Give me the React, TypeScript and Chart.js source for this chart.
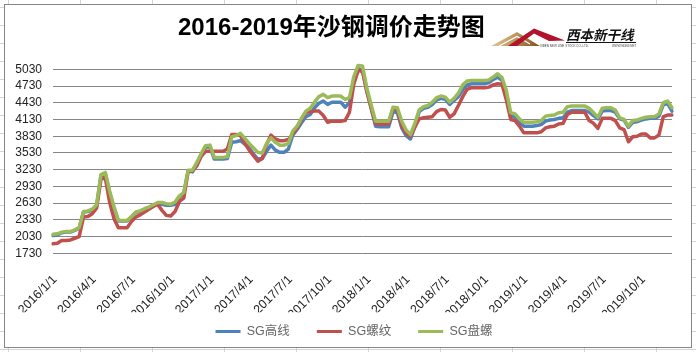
import React, { useEffect, useRef } from "react";
import { Chart, registerables } from "chart.js";

Chart.register(...registerables);

const CATEGORIES = [
  "2016/1/1","2016/1/11","2016/1/21","2016/2/1","2016/2/11","2016/2/21","2016/3/1","2016/3/11","2016/3/21","2016/4/1","2016/4/11","2016/4/21",
  "2016/5/1","2016/5/11","2016/5/21","2016/6/1","2016/6/11","2016/6/21","2016/7/1","2016/7/11","2016/7/21","2016/8/1","2016/8/11","2016/8/21",
  "2016/9/1","2016/9/11","2016/9/21","2016/10/1","2016/10/11","2016/10/21","2016/11/1","2016/11/11","2016/11/21","2016/12/1","2016/12/11","2016/12/21",
  "2017/1/1","2017/1/11","2017/1/21","2017/2/1","2017/2/11","2017/2/21","2017/3/1","2017/3/11","2017/3/21","2017/4/1","2017/4/11","2017/4/21",
  "2017/5/1","2017/5/11","2017/5/21","2017/6/1","2017/6/11","2017/6/21","2017/7/1","2017/7/11","2017/7/21","2017/8/1","2017/8/11","2017/8/21",
  "2017/9/1","2017/9/11","2017/9/21","2017/10/1","2017/10/11","2017/10/21","2017/11/1","2017/11/11","2017/11/21","2017/12/1","2017/12/11","2017/12/21",
  "2018/1/1","2018/1/11","2018/1/21","2018/2/1","2018/2/11","2018/2/21","2018/3/1","2018/3/11","2018/3/21","2018/4/1","2018/4/11","2018/4/21",
  "2018/5/1","2018/5/11","2018/5/21","2018/6/1","2018/6/11","2018/6/21","2018/7/1","2018/7/11","2018/7/21","2018/8/1","2018/8/11","2018/8/21",
  "2018/9/1","2018/9/11","2018/9/21","2018/10/1","2018/10/11","2018/10/21","2018/11/1","2018/11/11","2018/11/21","2018/12/1","2018/12/11","2018/12/21",
  "2019/1/1","2019/1/11","2019/1/21","2019/2/1","2019/2/11","2019/2/21","2019/3/1","2019/3/11","2019/3/21","2019/4/1","2019/4/11","2019/4/21",
  "2019/5/1","2019/5/11","2019/5/21","2019/6/1","2019/6/11","2019/6/21","2019/7/1","2019/7/11","2019/7/21","2019/8/1","2019/8/11","2019/8/21",
  "2019/9/1","2019/9/11","2019/9/21","2019/10/1","2019/10/11","2019/10/21","2019/11/1","2019/11/11","2019/11/21","2019/12/1","2019/12/11"
];

const TICK_LABELS = [
  "2016/1/1","2016/4/1","2016/7/1","2016/10/1",
  "2017/1/1","2017/4/1","2017/7/1","2017/10/1",
  "2018/1/1","2018/4/1","2018/7/1","2018/10/1",
  "2019/1/1","2019/4/1","2019/7/1","2019/10/1"
];

const Y_TICKS = [1730, 2030, 2330, 2630, 2930, 3230, 3530, 3830, 4130, 4430, 4730, 5030];

// SG高线
const SG_WIRE = [
  2050,2060,2100,2110,2110,2140,2180,2470,2480,2500,2580,3120,
  3160,2820,2540,2310,2310,2310,2380,2460,2480,2520,2550,2580,
  2620,2610,2590,2590,2610,2740,2800,3210,3190,3340,3500,3630,
  3640,3420,3420,3420,3430,3720,3730,3750,3690,3620,3510,3420,
  3430,3560,3670,3580,3540,3540,3600,3850,3950,4070,4180,4220,
  4340,4420,4460,4400,4440,4440,4440,4350,4430,4820,5040,5020,
  4640,4330,4010,4000,4000,4000,4270,4250,3980,3840,3780,4000,
  4270,4330,4350,4400,4480,4510,4490,4400,4470,4540,4660,4750,
  4770,4770,4770,4770,4790,4850,4890,4830,4590,4190,4170,4070,
  4010,4010,4010,4020,4040,4100,4120,4130,4150,4160,4260,4290,
  4290,4290,4290,4260,4200,4140,4280,4290,4290,4260,4140,4120,
  3990,4080,4090,4120,4140,4150,4150,4190,4390,4420,4280
];

// SG螺纹
const SG_REBAR = [
  1900,1910,1960,1960,1970,2000,2030,2380,2390,2440,2540,3060,
  3080,2640,2350,2190,2190,2190,2300,2380,2420,2470,2520,2570,
  2610,2500,2410,2400,2480,2660,2720,3200,3210,3300,3470,3560,
  3560,3560,3560,3560,3600,3860,3860,3840,3700,3580,3480,3380,
  3430,3680,3850,3780,3750,3750,3770,3870,3980,4130,4260,4270,
  4280,4280,4200,4080,4100,4100,4100,4110,4260,4760,5010,4990,
  4630,4330,4050,4050,4050,4050,4330,4300,4020,3880,3830,3990,
  4140,4160,4170,4180,4270,4310,4300,4170,4230,4380,4540,4670,
  4700,4700,4700,4700,4710,4750,4770,4760,4480,4130,4110,4010,
  3890,3890,3890,3890,3910,3980,4000,4010,4050,4060,4220,4260,
  4260,4260,4260,4110,4060,3970,4150,4150,4150,4110,3980,3950,
  3730,3820,3830,3870,3870,3800,3800,3850,4180,4210,4210
];

// SG盘螺
const SG_COIL = [
  2070,2080,2110,2120,2120,2150,2190,2480,2490,2520,2600,3140,
  3180,2840,2560,2320,2320,2320,2390,2470,2490,2530,2560,2600,
  2640,2640,2620,2610,2650,2760,2820,3220,3220,3360,3520,3660,
  3670,3450,3450,3450,3460,3820,3840,3880,3790,3700,3620,3540,
  3530,3700,3800,3720,3670,3670,3700,3920,4010,4150,4280,4330,
  4440,4540,4580,4520,4550,4550,4550,4490,4520,4900,5100,5090,
  4690,4390,4100,4100,4100,4100,4350,4340,4100,3940,3860,4060,
  4300,4360,4380,4440,4520,4550,4530,4440,4510,4600,4750,4820,
  4830,4830,4830,4830,4840,4890,4950,4880,4650,4250,4230,4140,
  4080,4080,4080,4090,4110,4190,4200,4210,4250,4260,4360,4370,
  4370,4370,4370,4330,4250,4170,4330,4340,4340,4300,4160,4130,
  4010,4110,4120,4150,4170,4180,4180,4230,4430,4460,4340
];

const SERIES_NAMES = ["SG高线", "SG螺纹", "SG盘螺"];
const SERIES_COLORS = ["#4F81BD", "#C0504D", "#9BBB59"];
const TITLE = "2016-2019年沙钢调价走势图";
const LOGO_TEXT = "西本新干线";
const LOGO_SUB = "XIBEN NEW LINE STOCK CO.,LTD.";
const LOGO_URL = "WWW.96369.NET";

const FONT = "'Liberation Sans', 'Noto Sans CJK SC', sans-serif";

const framePlugin = {
  id: "excelFrame",
  beforeDraw(chart: any) {
    const ctx = chart.ctx as CanvasRenderingContext2D;
    const W = chart.width;
    const H = chart.height;
    ctx.save();
    ctx.fillStyle = "#ffffff";
    ctx.fillRect(0, 0, W, H);
    // spreadsheet cells behind the chart object
    ctx.strokeStyle = "#d4d4d4";
    ctx.lineWidth = 1;
    ctx.beginPath();
    for (let x = 8; x < W; x += 72) {
      ctx.moveTo(x + 0.5, 0);
      ctx.lineTo(x + 0.5, H);
    }
    for (let y = 7; y < H; y += 18) {
      ctx.moveTo(0, y + 0.5);
      ctx.lineTo(W, y + 0.5);
    }
    ctx.stroke();
    ctx.fillStyle = "#ffffff";
    ctx.fillRect(4, 4, 688, 344);
    ctx.strokeStyle = "#868686";
    ctx.strokeRect(4.5, 4.5, 687, 343);

    // title
    ctx.fillStyle = "#000000";
    ctx.font = "bold 24px " + FONT;
    ctx.textAlign = "left";
    ctx.textBaseline = "middle";
    ctx.fillText(TITLE, 178, 28);

    // logo: mountains
    const g = ctx.createLinearGradient(492, 30, 535, 48);
    g.addColorStop(0, "#ecd6a6");
    g.addColorStop(1, "#8a5a22");
    ctx.fillStyle = g;
    ctx.beginPath();
    ctx.moveTo(491, 46);
    ctx.lineTo(517, 32);
    ctx.lineTo(540, 46);
    ctx.closePath();
    ctx.fill();
    ctx.strokeStyle = "#ffffff";
    ctx.lineWidth = 1.2;
    ctx.beginPath();
    ctx.moveTo(499, 46);
    ctx.lineTo(517, 36.5);
    ctx.lineTo(530, 44);
    ctx.stroke();

    ctx.fillStyle = "#b3122a";
    ctx.beginPath();
    ctx.moveTo(508, 46);
    ctx.lineTo(534, 28.5);
    ctx.lineTo(565, 40.5);
    ctx.lineTo(549, 41);
    ctx.lineTo(534, 33.5);
    ctx.lineTo(517, 46);
    ctx.closePath();
    ctx.fill();

    // logo text
    ctx.fillStyle = "#111111";
    ctx.font = "italic bold 13.5px 'Noto Sans CJK SC', sans-serif";
    ctx.textBaseline = "alphabetic";
    ctx.fillText(LOGO_TEXT, 566, 39.5);
    ctx.strokeStyle = "#111111";
    ctx.lineWidth = 1;
    ctx.beginPath();
    ctx.moveTo(566, 42.5);
    ctx.lineTo(636, 42.5);
    ctx.stroke();
    ctx.font = "3px " + FONT;
    ctx.fillStyle = "#444444";
    ctx.fillText(LOGO_SUB, 540, 46.5);
    ctx.fillText(LOGO_URL, 612, 46.5);
    ctx.restore();
  },
};

export default function App() {
  const ref = useRef<HTMLCanvasElement | null>(null);

  useEffect(() => {
    document.body.style.margin = "0";
    const canvas = ref.current;
    if (!canvas) return;
    Chart.defaults.font.family = FONT;

    const seriesData = [SG_WIRE, SG_REBAR, SG_COIL];
    const drawOrder = [3, 2, 1];

    const chart = new Chart(canvas, {
      type: "line",
      data: {
        labels: CATEGORIES,
        datasets: SERIES_NAMES.map((name, i) => ({
          label: name,
          data: seriesData[i],
          borderColor: SERIES_COLORS[i],
          backgroundColor: SERIES_COLORS[i],
          borderWidth: 3.5,
          pointRadius: 0,
          pointHoverRadius: 0,
          tension: 0,
          borderJoinStyle: "round" as const,
          borderCapStyle: "round" as const,
          order: drawOrder[i],
          yAxisID: "y",
        })),
      },
      options: {
        responsive: false,
        animation: false,
        devicePixelRatio: 1,
        events: [],
        layout: { padding: { top: 62.6, left: 12, right: 0, bottom: 4.25 } },
        scales: {
          x: {
            type: "category",
            offset: false,
            grid: { display: false },
            border: { display: false },
            ticks: {
              autoSkip: false,
              minRotation: 45,
              maxRotation: 45,
              padding: 11,
              labelOffset: 2,
              color: "#222222",
              font: { size: 12.5 },
              callback: (_v: any, index: number) =>
                TICK_LABELS.includes(CATEGORIES[index]) ? CATEGORIES[index] : "",
            },
            afterFit: (s: any) => {
              s.height = 59;
            },
          },
          y: {
            type: "linear",
            position: "left",
            min: 1730,
            max: 5150,
            afterBuildTicks: (s: any) => {
              s.ticks = Y_TICKS.map((v) => ({ value: v }));
            },
            grid: { color: "#868686", lineWidth: 1, drawTicks: false },
            border: { display: false },
            ticks: {
              autoSkip: false,
              padding: 11,
              color: "#222222",
              font: { size: 12 },
              callback: (v: any) => String(v),
            },
            afterFit: (s: any) => {
              s.width = 41;
            },
          },
          y2: {
            type: "linear",
            position: "right",
            display: true,
            grid: { display: false, drawTicks: false },
            border: { display: false },
            ticks: { display: false },
            afterFit: (s: any) => {
              s.width = 24;
            },
          },
        },
        plugins: {
          title: { display: false },
          tooltip: { enabled: false },
          legend: {
            display: true,
            position: "bottom",
            title: {
              display: true,
              text: "",
              font: { size: 10 },
              padding: { top: 0, bottom: -26.05 },
            },
            labels: {
              boxWidth: 25,
              boxHeight: 3,
              padding: 27,
              color: "#222222",
              font: { size: 12.5 },
              generateLabels: (c: any) =>
                c.data.datasets.map((d: any, i: number) => ({
                  text: d.label,
                  fillStyle: d.borderColor,
                  strokeStyle: d.borderColor,
                  lineWidth: 0,
                  hidden: false,
                  datasetIndex: i,
                })),
            },
          },
        },
      },
      plugins: [framePlugin],
    } as any);

    return () => chart.destroy();
  }, []);

  return (
    <div style={{ width: 696, height: 352, position: "relative" }}>
      <canvas ref={ref} width={696} height={352} style={{ display: "block" }} />
    </div>
  );
}
